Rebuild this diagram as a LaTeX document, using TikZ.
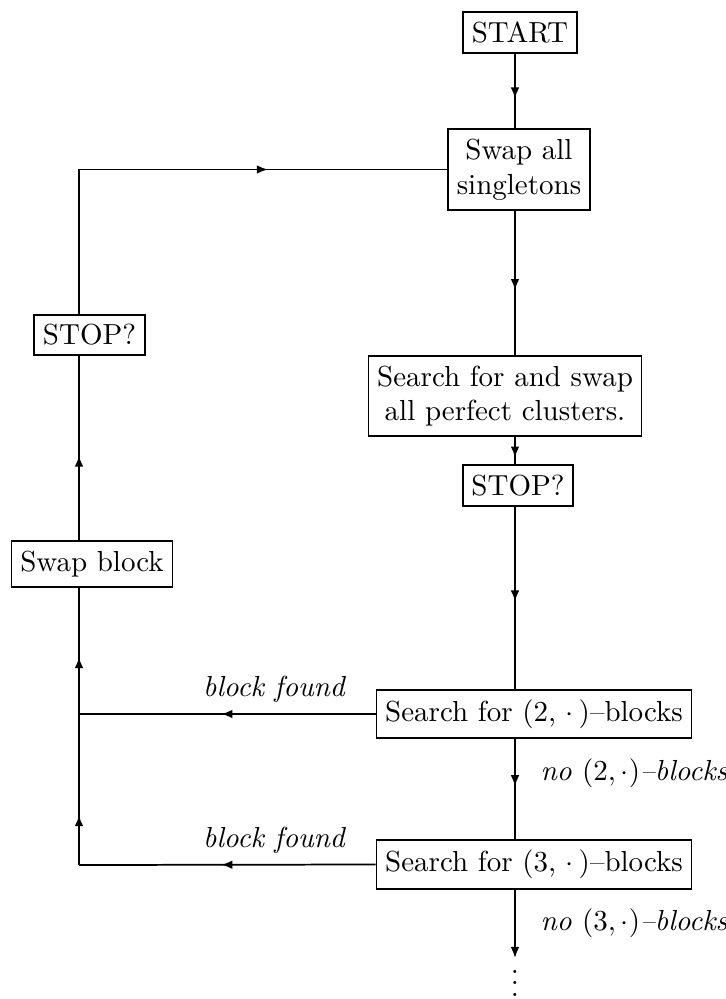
\documentclass[tikz,border=0pt]{standalone}
\usetikzlibrary{arrows.meta,decorations.markings}
\tikzset{
  box/.style={draw, line width=0.6pt, inner xsep=3pt, inner ysep=3.33pt, align=center},
  flow/.style={line width=0.6pt},
  midtip/.style={postaction={decorate},
    decoration={markings, mark=at position #1 with {\arrow{Latex[length=3.8pt,width=3pt]}}}},
  lbl/.style={font=\itshape, inner sep=0pt},
}
\begin{document}
\begin{tikzpicture}[x=0.3448pt,y=-0.3448pt]
\useasboundingbox (0,0) rectangle (725,999);

% columns of the two vertical runs
\coordinate (col) at (515,0);
\coordinate (lcol) at (79,0);

% main chain
\node[box] (start)  at (520,32.5)  {START};
\node[box] (swap1)  at (519,169.5) {Swap all\\singletons};
\node[box] (search) at (505,396)   {Search for and swap\\all perfect clusters.};
\node[box] (stop1)  at (518,485.5) {STOP?};
\node[box] (s2)     at (534,714)   {Search for (2, $\cdot\,$)--blocks};
\node[box] (s3)     at (534,864.5) {Search for (3, $\cdot\,$)--blocks};
\node[inner sep=0pt, anchor=south] (more) at (515,997) {$\vdots$};

% return branch
\node[box] (stopL)   at (89.5,335) {STOP?};
\node[box] (swapblk) at (92,564)   {Swap block};

% corners of the return branch
\coordinate (c2) at (79,714);
\coordinate (c3) at (79,865);
\coordinate (ctop) at (79,169.5);
\coordinate (dotstip) at (515,958);

% labels
\node[lbl, anchor=west] (no2) at (540,773) {no $(2,\cdot)$--blocks};
\node[lbl, anchor=west] (no3) at (540,923) {no $(3,\cdot)$--blocks};
\node[lbl] (bf2) at (274,689) {block found};
\node[lbl] (bf3) at (274,840) {block found};

% main column connectors
\draw[flow, midtip=0.6]  (start.south -| col) -- (swap1.north -| col);
\draw[flow, midtip=0.55] (swap1.south -| col) -- (search.north -| col);
\draw[flow, midtip=0.75] (search.south -| col) -- (stop1.north -| col);
\draw[flow, midtip=0.52] (stop1.south -| col) -- (s2.north -| col);
\draw[flow, midtip=0.47] (s2.south -| col) -- (s3.north -| col);
\draw[flow, -{Latex[length=3.8pt,width=3pt]}] (s3.south -| col) -- (dotstip);

% found branches
\draw[flow, midtip=0.52] (s2.west) -- (c2);
\draw[flow, midtip=0.52] (s3.west) -- (c3);

% back up the left column
\draw[flow, midtip=0.33] (c3) -- (c2);
\draw[flow, midtip=0.45] (c2) -- (swapblk.south -| lcol);
\draw[flow, midtip=0.46] (swapblk.north -| lcol) -- (stopL.south -| lcol);
\draw[flow, midtip=0.65] (stopL.north -| lcol) -- (ctop) -- (swap1.west);
\end{tikzpicture}
\end{document}
